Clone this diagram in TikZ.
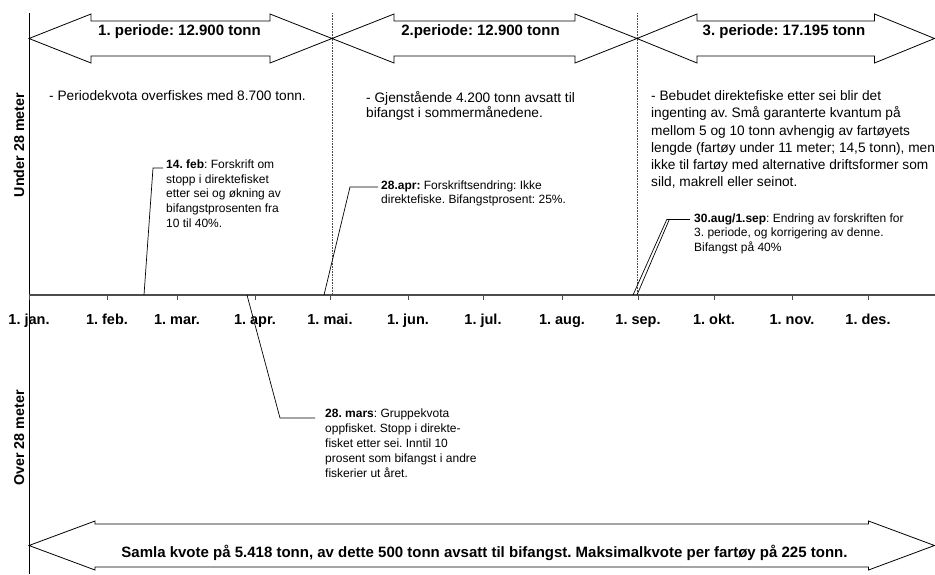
\documentclass[tikz,border=0pt]{standalone}
\usepackage{fontspec}
\setmainfont{Liberation Sans}
\frenchspacing
\newcommand\DArrow[6]{%
  \draw[arrowbox] (#1,#3) -- (#1+#6,#3-#5) -- (#1+#6,#3-#4) -- (#2-#6,#3-#4) -- (#2-#6,#3-#5) -- (#2,#3)
    -- (#2-#6,#3+#5) -- (#2-#6,#3+#4) -- (#1+#6,#3+#4) -- (#1+#6,#3+#5) -- cycle;}
\tikzset{
  arrowbox/.style={draw=black,line width=0.8pt,fill=white,line join=miter},
  title/.style={font=\fontsize{15}{18}\selectfont\bfseries,inner sep=0pt,anchor=base},
  month/.style={font=\fontsize{14.5}{17}\selectfont\bfseries,inner sep=0pt,anchor=base},
  body/.style={inner sep=0pt,anchor=north west,align=left},
  callout/.style={inner sep=0pt,anchor=north west,align=left},
  sidelabel/.style={font=\fontsize{14.3}{17}\selectfont\bfseries,inner sep=0pt,anchor=base,rotate=90},
  axisline/.style={draw=black!70,line width=1.2pt},
  vaxis/.style={draw=black,line width=0.9pt},
  tick/.style={draw=black!70,line width=0.8pt},
  divider/.style={draw=black!70,line width=0.5pt,dash pattern=on 0.7pt off 0.9pt},
  leader/.style={draw=black,line width=0.7pt},
}
\begin{document}
\begin{tikzpicture}[x=1pt,y=-1pt]
\fill[white] (0,0) rectangle (935,574);
\useasboundingbox (0,0) rectangle (935,574);

% dividers
\draw[divider] (332,13) -- (332,295);
\draw[divider] (637,13) -- (637,295);

% period arrows
\DArrow{29}{332}{38.5}{17.5}{24.5}{62}
\DArrow{332}{637}{38.5}{17.5}{24.5}{62}
\DArrow{637}{934.5}{38.5}{17.5}{24.5}{60}
\node[title] (p1) at (179.5,35) {1. periode: 12.900 tonn};
\node[title] (p2) at (480.5,35) {2.periode: 12.900 tonn};
\node[title] (p3) at (784,35) {3. periode: 17.195 tonn};

% bottom arrow
\DArrow{29}{934.5}{545.5}{21.5}{24.5}{66}
\node[title] (total) at (484.5,557) {Samla kvote på 5.418 tonn, av dette 500 tonn avsatt til bifangst. Maksimalkvote per fartøy på 225 tonn.};

% axes
\draw[vaxis] (29,13) -- (29,574);
\draw[axisline] (29,295) -- (935,295);
\foreach \x/\m in {29/1. jan., 107/1. feb., 177/1. mar., 255/1. apr., 330/1. mai., 408/1. jun., 483/1. jul., 562/1. aug., 638/1. sep., 714/1. okt., 792/1. nov., 868/1. des.}{
  \draw[tick] (\x,295) -- (\x,300);
  \node[month] at (\x,324) {\m};
}

% side labels
\node[sidelabel] (under) at (24,145) {Under 28 meter};
\node[sidelabel] (over) at (24,438) {Over 28 meter};

% period texts
\node[body,font=\fontsize{13.7}{17}\selectfont] (t1) at (49,90.6) {- Periodekvota overfiskes med 8.700 tonn.};
\node[body,font=\fontsize{13.7}{15}\selectfont] (t2) at (366,91.3) {- Gjenstående 4.200 tonn avsatt til\\bifangst i sommermånedene.};
\node[body,font=\fontsize{13.7}{17.2}\selectfont] (t3) at (651,90.6) {- Bebudet direktefiske etter sei blir det\\ingenting av. Små garanterte kvantum på\\mellom 5 og 10 tonn avhengig av fartøyets\\lengde (fartøy under 11 meter; 14,5 tonn), men\\ikke til fartøy med alternative driftsformer som\\sild, makrell eller seinot.};

% callouts
\node[callout,font=\fontsize{12}{14.7}\selectfont] (feb) at (166,159.4) {\textbf{14. feb}: Forskrift om\\stopp i direktefisket\\etter sei og økning av\\bifangstprosenten fra\\10 til 40\%.};
\coordinate (febA) at (144,295);
\coordinate (febB) at (153,168);
\coordinate (febC) at (163,168);
\draw[leader] (febA) -- (febB) -- (febC);

\node[callout,font=\fontsize{12}{14.3}\selectfont] (apr) at (381,180.4) {\textbf{28.apr:} Forskriftsendring: Ikke\\direktefiske. Bifangstprosent: 25\%.};
\coordinate (aprA) at (324,295);
\coordinate (aprB) at (350,187);
\coordinate (aprC) at (378,187);
\draw[leader] (aprA) -- (aprB) -- (aprC);

\node[callout,font=\fontsize{12}{15}\selectfont] (mar) at (325,408.4) {\textbf{28. mars}: Gruppekvota\\oppfisket. Stopp i direkte-\\fisket etter sei. Inntil 10\\prosent som bifangst i andre\\fiskerier ut året.};
\coordinate (marA) at (247,295);
\coordinate (marB) at (280,418);
\coordinate (marC) at (315,418);
\draw[leader] (marA) -- (marB) -- (marC);

\node[callout,font=\fontsize{12}{14.5}\selectfont] (sep) at (694,213.4) {\textbf{30.aug/1.sep}: Endring av forskriften for\\3. periode, og korrigering av denne.\\Bifangst på 40\%};
\coordinate (augA) at (633,295);
\coordinate (sepA) at (637,295);
\coordinate (augB) at (667,219);
\coordinate (sepB) at (669.5,219);
\coordinate (sepC) at (690,219);
\draw[leader] (augA) -- (augB);
\draw[leader] (sepA) -- (sepB);
\draw[leader] (augB) -- (sepC);
\end{tikzpicture}
\end{document}
